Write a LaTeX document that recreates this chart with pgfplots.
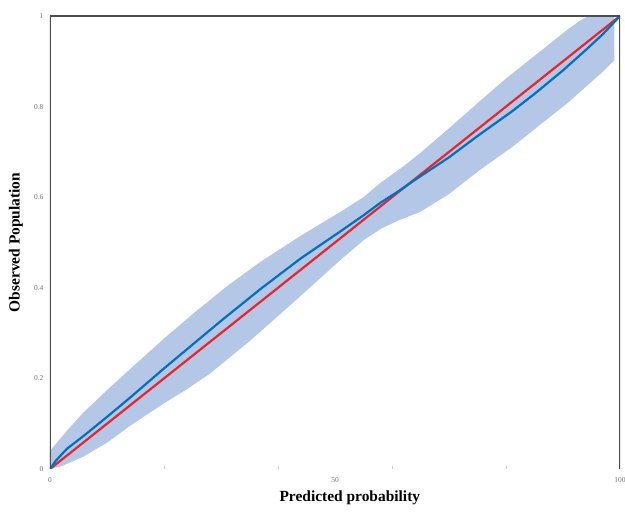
\documentclass[border=0pt]{standalone}
\usepackage{fontspec}
\setmainfont{Liberation Serif}
\usepackage{pgfplots}
\pgfplotsset{compat=1.18}
\definecolor{band}{RGB}{180,199,231}
\definecolor{bline}{RGB}{0,112,192}
\definecolor{rline}{RGB}{232,36,44}
\definecolor{tickc}{RGB}{120,120,120}
\begin{document}
\begin{tikzpicture}[x=1bp,y=1bp]
\path[use as bounding box] (-50bp,-43bp) rectangle (575bp,469bp);
\begin{axis}[
  at={(0,0)}, anchor=south west,
  scale only axis, width=570bp, height=453bp,
  xmin=0, xmax=100, ymin=0, ymax=1,
  axis line style={draw=none},
  xtick={0,50,100}, ytick={0,0.2,0.4,0.6,0.8,1},
  yticklabels={0,0.2,0.4,0.6,0.8,1},
  minor xtick={20,40,60,80},
  xtick pos=bottom, ytick pos=left,
  major tick length=0pt,
  minor tick length=3bp,
  minor tick style={draw=black!20},
  every tick label/.append style={font=\fontsize{7.5}{8}\selectfont, text=tickc},
  /pgf/number format/assume math mode=true,
  xticklabel style={yshift=-5bp},
  yticklabel style={xshift=-3bp},
  xlabel={\textbf{Predicted probability}},
  ylabel={\textbf{Observed Population}},
  label style={font=\fontsize{15.5}{18}\selectfont},
  xlabel style={at={(axis description cs:0.526,-0.0640)}, anchor=center},
  ylabel style={at={(axis description cs:-0.0600,0.5)}, anchor=center},
  clip=true,
]
\addplot[fill=band, draw=none] coordinates {
 (0,0.04) (3,0.085) (5.8,0.124) (10,0.174) (14,0.220) (20,0.288) (25.8,0.350) (31,0.403) (37,0.458)
 (44,0.515) (51,0.568) (55,0.600) (58,0.632) (62,0.668) (65,0.698) (70,0.752) (75.4,0.812)
 (80,0.862) (85,0.912) (88,0.942) (90.7,0.969) (93,0.99) (94.5,1.0) (99,1.0)
 (99,0.902) (97,0.877) (95,0.855) (91,0.81) (87,0.77) (81,0.71) (75.4,0.66) (70,0.607)
 (65,0.568) (61,0.548) (58,0.530) (55,0.505) (51,0.462) (46,0.405) (42,0.36) (35,0.282) (28,0.210)
 (24,0.176) (20,0.145) (14,0.095) (10,0.058) (5.8,0.027) (2,0.006) (0,0)
};
\addplot[rline, line width=2.2bp] coordinates {
 (0,0) (5,0.05) (10,0.10) (15,0.15) (20,0.20) (25,0.25) (30,0.30) (35,0.35) (40,0.40) (45,0.45)
 (50,0.50) (55,0.55) (60,0.60) (65,0.65) (70,0.70) (75,0.75) (80,0.80) (85,0.85) (90,0.90) (95,0.95) (100,1.0)
};
\addplot[bline, line width=2.2bp] coordinates {
 (0,0) (1,0.018) (3,0.045) (6,0.074) (10,0.115) (14,0.157) (20,0.222) (26,0.285) (30,0.327)
 (37,0.398) (44,0.465) (51,0.525) (55,0.56) (58,0.588) (61,0.612) (64,0.638) (70,0.688) (75,0.735)
 (81,0.789) (85,0.828) (90,0.880) (94,0.925) (97,0.960) (100,1.0)
};
\draw[black!25, line width=1bp] (rel axis cs:0,0) -- (rel axis cs:1,0);
\draw[black!70, line width=1.5bp] (rel axis cs:0,0) -- (rel axis cs:0,1) -- (rel axis cs:1,1) -- (rel axis cs:1,0);
\end{axis}
\end{tikzpicture}
\end{document}
